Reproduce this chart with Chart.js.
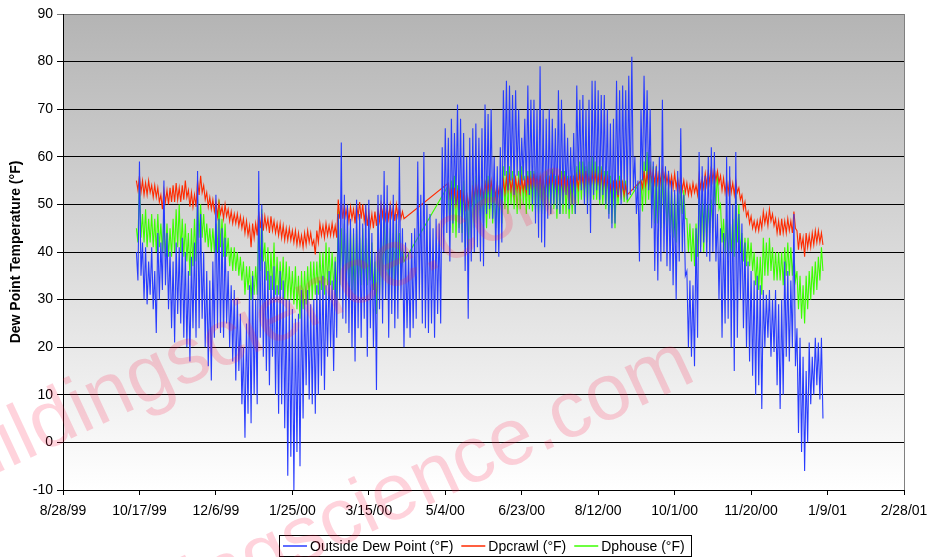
<!DOCTYPE html>
<html><head><meta charset="utf-8">
<script src="https://cdn.jsdelivr.net/npm/chart.js@4.4.1/dist/chart.umd.min.js"></script>
<style>html,body{margin:0;padding:0;background:#fff}#wrap{width:929px;height:557px;position:relative}</style>
</head><body><div id="wrap"><canvas id="c" width="929" height="557"></canvas></div>
<script>
// ---------- data ----------
const seriesNames = ['Outside Dew Point (°F)', 'Dpcrawl (°F)', 'Dphouse (°F)'];
const seriesColors = ['#283cff', '#ff2a00', '#3cff00'];
const firstDaySerial = 36448;   // Excel serial of 10/15/99
const slotDays = 2;             // each slot: a high reading, then a low reading one day later
const xMin = 36400, xMax = 36950, xStep = 50;   // 8/28/99 .. 2/28/01
const yMin = -10, yMax = 90, yStep = 10;
const yTitle = 'Dew Point Temperature (°F)';
const watermarkText = 'buildingscience.com';

const outsideHigh = [
 40,59,42,41,38,41,36,44,42,55,
 44,40,38,42,41,43,40,36,39,42,
 57,48,40,36,34,38,52,47,45,43,
 36,33,32,30,27,20,25,33,35,30,
 57,50,38,36,35,37,33,36,34,30,
 30,28,26,27,32,30,32,29,30,33,
 34,35,33,36,34,38,48,63,52,50,
 47,45,51,48,46,50,51,44,40,52,
 52,57,54,50,52,48,60,45,42,40,
 44,45,59,52,61,50,48,45,47,46,
 62,66,64,68,65,71,68,65,60,64,
 66,67,64,66,71,69,70,60,58,62,
 74,76,75,73,74,70,64,68,75,72,
 72,70,79,70,68,70,68,66,74,72,
 67,64,62,65,75,72,73,70,72,76,
 76,74,73,73,70,67,68,76,74,75,
 74,77,81,60,55,70,77,74,70,59,
 58,60,72,58,57,55,53,57,66,52,
 36,34,33,45,61,58,56,60,62,61,
 48,45,44,60,58,50,61,48,46,42,
 38,36,34,35,33,32,31,32,30,32,
 29,30,38,36,34,48,24,22,18,15,
 21,18,22,21,22
];
const outsideLow = [
 34,35,30,29,31,28,23,30,32,33,
 28,24,21,27,25,22,20,17,24,22,
 24,26,20,16,13,22,24,23,22,25,
 20,17,13,15,8,1,6,4,10,8,
 22,18,15,12,18,10,6,8,3,-7,
 -3,-10,-2,-5,5,12,9,8,6,10,
 14,11,18,20,15,22,30,26,25,23,
 20,17,24,22,26,18,24,20,11,28,
 25,30,22,27,24,26,30,20,24,22,
 24,26,30,25,24,23,25,22,27,25,
 40,44,38,46,50,44,42,36,26,38,
 40,41,38,37,48,49,47,40,39,42,
 56,53,55,52,56,54,55,53,52,50,
 46,43,42,41,47,48,50,49,48,50,
 52,49,50,48,55,53,50,48,44,52,
 53,51,52,50,47,45,46,52,50,53,
 51,52,53,48,38,55,57,53,45,36,
 34,38,40,37,36,33,30,38,40,35,
 20,18,16,22,40,42,39,38,40,38,
 30,22,25,26,20,15,22,30,24,20,
 17,14,10,12,7,20,22,18,19,12,
 7,10,18,17,20,16,2,-2,-6,0,
 8,10,12,9,5
];
const crawlHigh = [
 55,56,55,54.5,55,54,54,53.5,52,53,
 53,53.5,54,54.5,53.5,54,55,53,52.5,52,
 55,56,54,52.5,51.5,51,50.5,50.5,49.5,50,
 49,48.5,48,48,47.5,47,46.5,45.5,46,46,
 48.5,48,47.5,47,47.5,46.5,46,46,45.5,45,
 45,44.5,44.5,44,43.5,44,44.5,44,42.5,44.5,
 46,45.5,46,45.5,46,45.5,51,50.5,50,49.5,
 49.5,49,50,50.5,50,49,48.5,48,48.5,49,
 50,50.5,49.5,50,49.5,50,49.5,48.5,null,null,
 null,null,null,null,null,null,null,null,null,null,
 null,null,54.5,53,53.5,52.5,53,52,52.5,52,
 54,54,55,54,54.5,54.5,55,54,54.5,54,
 55,55.5,56,55,55.5,55,55.5,55,56,55.5,
 56.5,56,56,55.5,55.5,55.5,56,55,55.5,55,
 55.5,55,56,55.5,56,56.5,56,57,56,56.5,
 56.5,56,56.5,55.5,55.5,54,55,54.5,55,54.5,
 54,null,null,null,null,55,57,56.5,57.5,57,
 57.5,57,57.5,57,56.5,56,56.5,55.5,56,55,
 54.5,54,54.5,54,56,55.5,56.5,57,58,57.5,
 57,56,55.5,55,55.5,54.5,55,53.5,52,50.5,
 48.5,47.5,46.5,46.5,47,48.5,48,49,48,47,
 46.5,47,46.5,47,46.5,48.5,44.5,44,43,44,
 43.5,44,44.5,44.5,44
];
const crawlLow = [
 53,52.5,52,52,52.5,51.5,51.5,50.5,49,50.5,
 50,50.5,50.5,51,50.5,51,51.5,49.5,49.5,49.5,
 52,52.5,51,49.5,49,48.5,47.5,48,47,47.5,
 46.5,46,46,45.5,45,44,43.5,41,43,43.5,
 45,44.5,45,44,44.5,44,43.5,43,42.5,42.5,
 42.5,42,41.5,41.5,41,41.5,42,41.5,39.5,42,
 43.5,43,43.5,43.5,43.5,43,47,47,47.5,46.5,
 47,46,47.5,47,46.5,45.5,45.5,45,45.5,46.5,
 47.5,47,47,47.5,46.5,47.5,47,47,null,null,
 null,null,null,null,null,null,null,null,null,null,
 null,null,51.5,50,50,49,49.5,48.5,49.5,49.5,
 51.5,52,52,51.5,52,52,52.5,51.5,52,52,
 52.5,53,53,52.5,53,52.5,53,52.5,53,53,
 53.5,53,53,52.5,53,53,53.5,52.5,53,52.5,
 53,52.5,53,53,53.5,54,53,54,53.5,54,
 54,53.5,53.5,53,52.5,51.5,52,51.5,52,52,
 52,null,null,null,null,53.5,54,54,55,54.5,
 54.5,54.5,55,54.5,54,53.5,53.5,53,53,52.5,
 52,52,52.5,52,53.5,53.5,54,54.5,55,55,
 54.5,53,52.5,52.5,52.5,52,52.5,51,49,47.5,
 46,45,44.5,44.5,45,46,45.5,46.5,45.5,44,
 43.5,44,44,44.5,44,45,40.5,41,39,41,
 41,41.5,42,42,41.5
];
const houseHigh = [
 45,55,48,49,47,48,47,48,46,47,
 46,45,47,49,50,47,46,44,45,47,
 51,50,48,46,45,45,46,51,47,46,
 43,41,41,40,39,38,37,37,36,37,
 47,49,42,41,40,42,39,38,39,38,
 37,36,37,35,36,36,37,38,38,38,
 40,40,42,41,40,39,49,45,46,44,
 45,44,45,43,45,43,45,42,38,46,
 46,50,46,45,44,46,44,41,null,null,
 null,null,null,null,null,null,null,null,null,null,
 null,null,54,55,56,54,53,55,52,54,
 55,56,56,54,55,56,55,54,54,55,
 58,57,58,57,56,57,58,56,57,57,
 57,56,56,55,57,56,57.5,56,56,57,
 57,56,55,56,58,59,59,58,59,60,
 59,58,58,57,57,56,55,55,56,55,
 55,null,null,null,null,55,59,61,59,58,
 58,57,57,55,54,53,52,53,54,53,
 47,46,45,46,53,52,51,50,51,56,
 57,50,47,47,46,47,53,50,44,43,
 43,42,40,39,39,43,42,43,41,40,
 40,40,41,42,41,40,36,35,33,35,
 36,37,38,39,41
];
const houseLow = [
 42,43,42,41,42,41,40,41,40,39,
 39,39,40,41,40,39,38,35,37,38,
 43,43,42,41,40,40,40,41,39,39,
 37,36,36,35,34,31,32,30,31,31,
 36,38,34,32,32,31,31,32,30,30,
 30,29,28,26,28,29,30,30,31,31,
 32,31,33,33,32,30,33,34,33,32,
 32,31,32,33,33,33,34,32,27,31,
 32,35,31,33,30,32,34,38,null,null,
 null,null,null,null,null,null,null,null,null,null,
 null,null,45,44,43,45,44,41,40,43,
 45,46,47,46,45,47,46,45,46,46,
 49,48,50,49,48,49,50,48,49,48.5,
 49,48,48,48,49,48,49,47,48,48,
 48,47,48,48,50,51,51,50,51,51,
 51,50,50,49,48,46,45,50,51,50.5,
 50.5,null,null,null,null,48.5,50,51,49,46,
 46,45,46,45,44,43,42,46,48,47,
 40,38,37,39,41,40,42,44,45,50,
 49,42,40,39,40,39,42,40,38,37,
 37,36,33,32,31,35,35,36,34,34,
 34,33,35,35,35,34,28,26,25,28,
 30,31,32,34,36
];

// ---------- helpers ----------
function toPoints(high, low){
  const pts = [];
  high.forEach((h, i) => {
    const t = firstDaySerial + i * slotDays;
    pts.push({x: t, y: h});
    pts.push({x: t + slotDays / 2, y: low[i]});
  });
  return pts;
}
function serialToLabel(s){
  const d = new Date(Math.round((s - 25569) * 86400000));
  return (d.getUTCMonth()+1) + '/' + d.getUTCDate() + '/' + String(d.getUTCFullYear()).slice(2);
}
const FONT = "'Liberation Sans', Arial, sans-serif";

const bgPlugin = {
  id: 'bg',
  beforeDraw(chart){
    const {ctx, chartArea: a} = chart;
    const g = ctx.createLinearGradient(0, a.top, 0, a.bottom);
    g.addColorStop(0, '#b4b4b4');
    g.addColorStop(1, '#ffffff');
    ctx.save();
    ctx.fillStyle = g;
    ctx.fillRect(a.left, a.top, a.right - a.left, a.bottom - a.top);
    ctx.restore();
  },
  afterDraw(chart){
    const {ctx, chartArea: a} = chart;
    ctx.save();
    ctx.strokeStyle = '#808080';
    ctx.lineWidth = 1;
    ctx.beginPath();
    ctx.moveTo(Math.round(a.right)+0.5, a.top);
    ctx.lineTo(Math.round(a.right)+0.5, a.bottom);
    ctx.stroke();

    // legend
    ctx.font = '14px ' + FONT;
    const padL = 4, lineLen = 24, gap = 3, between = 8, padR = 6;
    const widths = seriesNames.map(n => ctx.measureText(n).width);
    let total = padL + padR;
    widths.forEach((w,i)=>{ total += lineLen + gap + w + (i < widths.length-1 ? between : 0); });
    const boxTop = 535, boxH = 21;
    const boxLeft = Math.round(485 - total/2);
    ctx.fillStyle = '#fff';
    ctx.fillRect(boxLeft, boxTop, total, boxH);
    ctx.strokeStyle = '#000';
    ctx.strokeRect(boxLeft + 0.5, boxTop + 0.5, Math.round(total), boxH);
    let x = boxLeft + padL;
    const cy = boxTop + boxH/2 + 0.5;
    ctx.textBaseline = 'middle';
    ctx.textAlign = 'left';
    seriesNames.forEach((n,i)=>{
      ctx.strokeStyle = seriesColors[i];
      ctx.lineWidth = 1.5;
      ctx.beginPath();
      ctx.moveTo(x, Math.round(cy)); ctx.lineTo(x + lineLen, Math.round(cy));
      ctx.stroke();
      x += lineLen + gap;
      ctx.fillStyle = '#000';
      ctx.fillText(n, x, cy + 1);
      x += widths[i] + between;
    });

    // watermark
    ctx.font = '80px ' + FONT;
    ctx.fillStyle = 'rgba(255, 20, 70, 0.19)';
    ctx.textBaseline = 'alphabetic';
    [[-71, 505], [45, 684]].forEach(([wx, wy])=>{
      ctx.save();
      ctx.translate(wx, wy);
      ctx.rotate(-25 * Math.PI / 180);
      ctx.fillText(watermarkText, 0, 0);
      ctx.restore();
    });
    ctx.restore();
  }
};

const highs = [outsideHigh, crawlHigh, houseHigh];
const lows = [outsideLow, crawlLow, houseLow];
new Chart(document.getElementById('c'), {
  type: 'line',
  data: {
    datasets: highs.map((h, i) => ({
      label: seriesNames[i],
      data: toPoints(h, lows[i]),
      borderColor: seriesColors[i],
      backgroundColor: seriesColors[i],
      borderWidth: 1.1,
      pointRadius: 0,
      pointHoverRadius: 0,
      tension: 0,
      spanGaps: true,
      fill: false
    }))
  },
  options: {
    responsive: false,
    animation: false,
    devicePixelRatio: 1,
    layout: { padding: { top: 14, right: 25, bottom: 0, left: 0 } },
    plugins: { legend: { display: false }, tooltip: { enabled: false } },
    scales: {
      x: {
        type: 'linear',
        min: xMin, max: xMax,
        afterFit(s){ s.height = 67; s.paddingLeft = 0; s.paddingRight = 0; },
        afterBuildTicks(s){ const t=[]; for(let v=xMin; v<=xMax; v+=xStep) t.push({value:v}); s.ticks = t; },
        ticks: { callback: v => serialToLabel(v), color: '#000', font: { family: FONT, size: 14 }, padding: 8, maxRotation: 0, autoSkip: false },
        grid: { drawOnChartArea: false, drawTicks: true, tickLength: 5, color: '#000' },
        border: { color: '#000', width: 1 }
      },
      y: {
        min: yMin, max: yMax,
        afterFit(s){ s.width = 63; },
        afterBuildTicks(s){ const t=[]; for(let v=yMin; v<=yMax; v+=yStep) t.push({value:v}); s.ticks = t; },
        ticks: { color: '#000', font: { family: FONT, size: 14 }, padding: 4 },
        grid: { color: c => (c.tick && c.tick.value === yMax) ? '#7a7a7a' : '#000', tickLength: 6, lineWidth: 1 },
        border: { color: '#000', width: 1 },
        title: { display: true, text: yTitle, color: '#000', font: { family: FONT, size: 14, weight: 'bold' }, padding: { top: 8, bottom: 0 } }
      }
    }
  },
  plugins: [bgPlugin]
});
</script>
</body></html>
